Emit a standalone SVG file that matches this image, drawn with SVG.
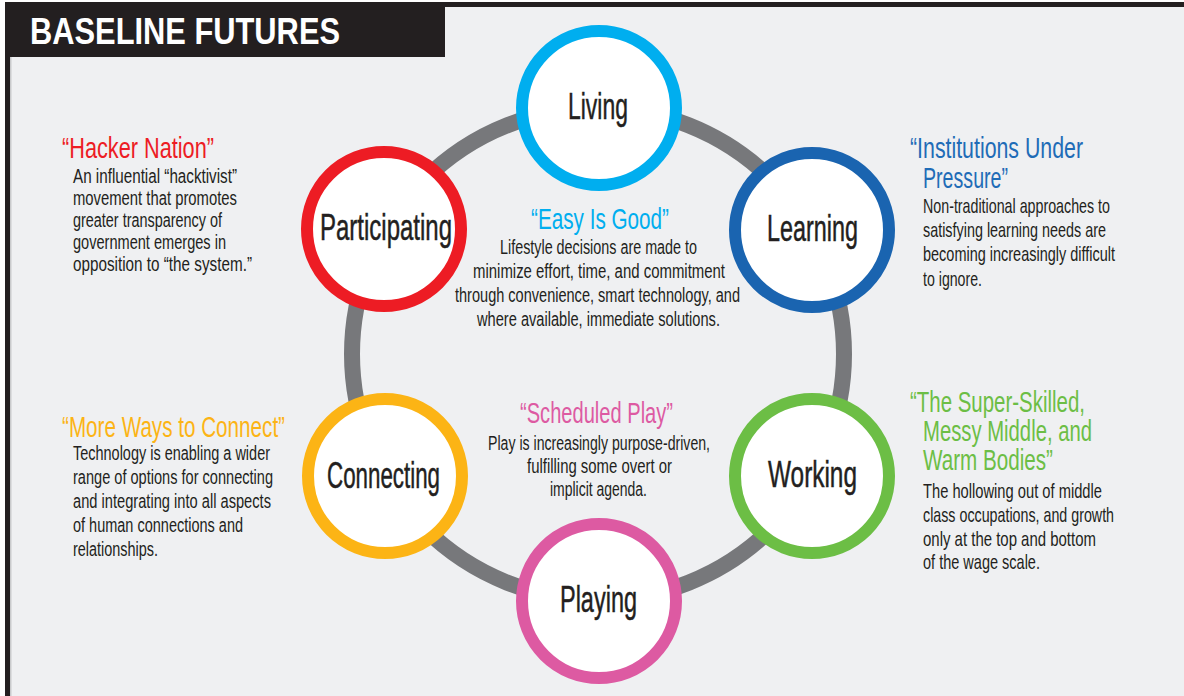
<svg xmlns="http://www.w3.org/2000/svg" width="1184" height="696" viewBox="0 0 1184 696">
<style>
.bg{fill:#eff0f2}
.frame{fill:#231f20}
.node circle{fill:#ffffff;stroke-width:12}
.lbl{font-family:"Liberation Sans",Arial,sans-serif;font-size:37px;fill:#231f20;stroke:#231f20;stroke-width:0.5;text-anchor:middle}
.ttl{font-family:"Liberation Sans",Arial,sans-serif;font-size:29px}
.body{font-family:"Liberation Sans",Arial,sans-serif;font-size:20px;fill:#231f20}
.mid{text-anchor:middle}
</style>
<rect x="0" y="0" width="1184" height="696" fill="#ffffff"/>
<rect class="bg" x="10" y="7" width="1174" height="689"/>
<rect x="10" y="57" width="1.5" height="639" fill="#c9cacc"/>
<rect class="frame" x="5" y="2" width="1179" height="5"/>
<rect class="frame" x="5" y="2" width="5" height="694"/>
<g id="header">
<rect class="frame" x="5" y="2" width="440" height="55"/>
<text x="30" y="44" font-family="'Liberation Sans',Arial,sans-serif" font-weight="bold" font-size="37" fill="#ffffff" textLength="310" lengthAdjust="spacingAndGlyphs">BASELINE FUTURES</text>
</g>
<g id="connectors">
<circle cx="598" cy="354" r="246" fill="none" stroke="#77787b" stroke-width="16"/>
</g>
<g id="node-living" class="node">
<circle cx="599" cy="108" r="77" stroke="#00aeef"/>
<text class="lbl" x="598" y="119" textLength="60" lengthAdjust="spacingAndGlyphs">Living</text>
</g>
<g id="node-participating" class="node">
<circle cx="384" cy="229" r="77" stroke="#ed1c24"/>
<text class="lbl" x="386" y="240" textLength="132" lengthAdjust="spacingAndGlyphs">Participating</text>
</g>
<g id="node-learning" class="node">
<circle cx="812" cy="230" r="77" stroke="#1a64b0"/>
<text class="lbl" x="812.5" y="241" textLength="91" lengthAdjust="spacingAndGlyphs">Learning</text>
</g>
<g id="node-connecting" class="node">
<circle cx="385" cy="476" r="77" stroke="#fcb415"/>
<text class="lbl" x="383.5" y="488" textLength="113" lengthAdjust="spacingAndGlyphs">Connecting</text>
</g>
<g id="node-working" class="node">
<circle cx="812" cy="476" r="77" stroke="#6cbe45"/>
<text class="lbl" x="812.5" y="487" textLength="89" lengthAdjust="spacingAndGlyphs">Working</text>
</g>
<g id="node-playing" class="node">
<circle cx="599" cy="601" r="77" stroke="#dd5aa2"/>
<text class="lbl" x="598.5" y="612" textLength="77" lengthAdjust="spacingAndGlyphs">Playing</text>
</g>
<g id="text-hacker">
<text class="ttl" x="62" y="158" fill="#ed1c24" textLength="152" lengthAdjust="spacingAndGlyphs">“Hacker Nation”</text>
<text class="body" x="73" y="183" textLength="164" lengthAdjust="spacingAndGlyphs">An influential “hacktivist”</text>
<text class="body" x="73" y="205" textLength="164" lengthAdjust="spacingAndGlyphs">movement that promotes</text>
<text class="body" x="73" y="227" textLength="149" lengthAdjust="spacingAndGlyphs">greater transparency of</text>
<text class="body" x="73" y="249" textLength="153" lengthAdjust="spacingAndGlyphs">government emerges in</text>
<text class="body" x="73" y="271" textLength="179" lengthAdjust="spacingAndGlyphs">opposition to “the system.”</text>
</g>
<g id="text-institutions">
<text class="ttl" x="910" y="158" fill="#1f6cb7" textLength="173" lengthAdjust="spacingAndGlyphs">“Institutions Under</text>
<text class="ttl" x="923" y="188" fill="#1f6cb7" textLength="85" lengthAdjust="spacingAndGlyphs">Pressure”</text>
<g transform="translate(923,0) scale(0.7,1)">
<text class="body" x="0" y="213" textLength="267.1" lengthAdjust="spacingAndGlyphs">Non-traditional approaches to</text>
<text class="body" x="0" y="237" textLength="261.4" lengthAdjust="spacingAndGlyphs">satisfying learning needs are</text>
<text class="body" x="0" y="261" textLength="274.3" lengthAdjust="spacingAndGlyphs">becoming increasingly difficult</text>
<text class="body" x="0" y="286" textLength="84.3" lengthAdjust="spacingAndGlyphs">to ignore.</text>
</g>
</g>
<g id="text-easy">
<text class="ttl mid" x="600" y="229" fill="#00aeef" textLength="138" lengthAdjust="spacingAndGlyphs">“Easy Is Good”</text>
<text class="body mid" x="598.5" y="254" textLength="197" lengthAdjust="spacingAndGlyphs">Lifestyle decisions are made to</text>
<text class="body mid" x="599" y="278" textLength="252" lengthAdjust="spacingAndGlyphs">minimize effort, time, and commitment</text>
<text class="body mid" x="597.5" y="302" textLength="285" lengthAdjust="spacingAndGlyphs">through convenience, smart technology, and</text>
<text class="body mid" x="598.5" y="326" textLength="243" lengthAdjust="spacingAndGlyphs">where available, immediate solutions.</text>
</g>
<g id="text-connect">
<text class="ttl" x="62" y="437" fill="#fcb415" textLength="223" lengthAdjust="spacingAndGlyphs">“More Ways to Connect”</text>
<text class="body" x="73" y="460" textLength="197" lengthAdjust="spacingAndGlyphs">Technology is enabling a wider</text>
<text class="body" x="73" y="484" textLength="200" lengthAdjust="spacingAndGlyphs">range of options for connecting</text>
<text class="body" x="73" y="508" textLength="198" lengthAdjust="spacingAndGlyphs">and integrating into all aspects</text>
<text class="body" x="73" y="532" textLength="170" lengthAdjust="spacingAndGlyphs">of human connections and</text>
<text class="body" x="73" y="556" textLength="85" lengthAdjust="spacingAndGlyphs">relationships.</text>
</g>
<g id="text-play">
<text class="ttl mid" x="596.5" y="423" fill="#dd5aa2" textLength="153" lengthAdjust="spacingAndGlyphs">“Scheduled Play”</text>
<text class="body mid" x="599" y="450" textLength="222" lengthAdjust="spacingAndGlyphs">Play is increasingly purpose-driven,</text>
<text class="body mid" x="599.5" y="473" textLength="145" lengthAdjust="spacingAndGlyphs">fulfilling some overt or</text>
<text class="body mid" x="598.5" y="496" textLength="97" lengthAdjust="spacingAndGlyphs">implicit agenda.</text>
</g>
<g id="text-skilled">
<text class="ttl" x="910" y="412" fill="#6cbe45" textLength="175" lengthAdjust="spacingAndGlyphs">“The Super-Skilled,</text>
<text class="ttl" x="923" y="441" fill="#6cbe45" textLength="169" lengthAdjust="spacingAndGlyphs">Messy Middle, and</text>
<text class="ttl" x="923" y="470" fill="#6cbe45" textLength="130" lengthAdjust="spacingAndGlyphs">Warm Bodies”</text>
<g transform="translate(923,0) scale(0.7,1)">
<text class="body" x="0" y="498" textLength="255.7" lengthAdjust="spacingAndGlyphs">The hollowing out of middle</text>
<text class="body" x="0" y="522" textLength="272.9" lengthAdjust="spacingAndGlyphs">class occupations, and growth</text>
<text class="body" x="0" y="546" textLength="247.1" lengthAdjust="spacingAndGlyphs">only at the top and bottom</text>
<text class="body" x="0" y="569" textLength="167.1" lengthAdjust="spacingAndGlyphs">of the wage scale.</text>
</g>
</g>
</svg>
